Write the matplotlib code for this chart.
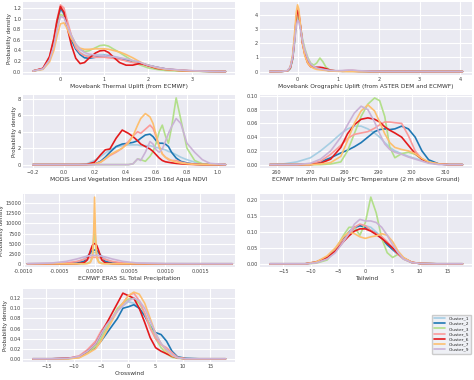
import numpy as np
import matplotlib
matplotlib.use("Agg")
import matplotlib.pyplot as plt
import seaborn as sns

sns.set_style("darkgrid")

clusters = ["Cluster_1", "Cluster_2", "Cluster_3", "Cluster_5", "Cluster_6", "Cluster_7", "Cluster_9"]
colors = ["#a6cee3", "#1f78b4", "#b2df8a", "#fb9a99", "#e31a1c", "#fdbf6f", "#cab2d6"]

# Movebank Thermal Uplift (from ECMWF)
thermal_x = [-0.63, -0.4, -0.25, -0.15, -0.08, 0.0, 0.08, 0.15, 0.25, 0.35, 0.45, 0.55, 0.65, 0.8, 0.9,
             1.0, 1.1, 1.2, 1.35, 1.5, 1.65, 1.8, 1.9, 2.0, 2.2, 2.4, 2.7, 3.0, 3.4, 3.77]
thermal = {
    "Cluster_1": [0.01, 0.05, 0.24, 0.55, 0.88, 1.17, 1.08, 0.88, 0.62, 0.45, 0.36, 0.31, 0.30, 0.31, 0.32,
                  0.32, 0.31, 0.29, 0.26, 0.22, 0.18, 0.15, 0.13, 0.11, 0.08, 0.05, 0.025, 0.01, 0.003, 0],
    "Cluster_2": [0.01, 0.05, 0.25, 0.58, 0.92, 1.20, 1.10, 0.88, 0.60, 0.42, 0.32, 0.26, 0.25, 0.27, 0.29,
                  0.30, 0.29, 0.27, 0.24, 0.21, 0.18, 0.16, 0.14, 0.12, 0.08, 0.05, 0.025, 0.01, 0.003, 0],
    "Cluster_3": [0.01, 0.05, 0.22, 0.50, 0.82, 1.08, 1.05, 0.90, 0.68, 0.52, 0.42, 0.38, 0.39, 0.45, 0.49,
                  0.50, 0.48, 0.43, 0.36, 0.28, 0.20, 0.13, 0.10, 0.07, 0.04, 0.02, 0.01, 0.005, 0.002, 0],
    "Cluster_5": [0.01, 0.06, 0.28, 0.63, 0.98, 1.26, 1.20, 0.98, 0.68, 0.45, 0.35, 0.30, 0.28, 0.27, 0.27,
                  0.27, 0.26, 0.25, 0.23, 0.20, 0.17, 0.15, 0.13, 0.11, 0.08, 0.05, 0.03, 0.015, 0.005, 0],
    "Cluster_6": [0.01, 0.06, 0.28, 0.62, 0.95, 1.23, 1.12, 0.85, 0.50, 0.25, 0.15, 0.17, 0.25, 0.35, 0.39,
                  0.40, 0.36, 0.28, 0.17, 0.12, 0.12, 0.15, 0.14, 0.11, 0.06, 0.04, 0.02, 0.01, 0.003, 0],
    "Cluster_7": [0.01, 0.04, 0.18, 0.40, 0.66, 0.90, 0.92, 0.82, 0.62, 0.50, 0.44, 0.42, 0.42, 0.43, 0.43,
                  0.43, 0.42, 0.40, 0.37, 0.32, 0.26, 0.19, 0.15, 0.12, 0.07, 0.04, 0.02, 0.01, 0.003, 0],
    "Cluster_9": [0.01, 0.05, 0.22, 0.48, 0.78, 1.04, 1.02, 0.88, 0.68, 0.52, 0.42, 0.36, 0.33, 0.31, 0.30,
                  0.30, 0.29, 0.28, 0.26, 0.24, 0.21, 0.18, 0.15, 0.12, 0.08, 0.05, 0.03, 0.015, 0.005, 0],
}

# Movebank Orographic Uplift (from ASTER DEM and ECMWF)
oro_x = [-0.68, -0.4, -0.25, -0.18, -0.12, -0.07, -0.03, 0.0, 0.03, 0.07, 0.12, 0.18, 0.25, 0.32, 0.4,
         0.47, 0.55, 0.62, 0.7, 0.8, 0.95, 1.1, 1.25, 1.35, 1.5, 1.8, 2.2, 3.0, 4.05]
oro = {
    "Cluster_1": [0, 0.01, 0.04, 0.22, 0.9, 2.2, 3.6, 4.0, 3.9, 3.2, 2.2, 1.4, 0.8, 0.5, 0.32,
                  0.24, 0.2, 0.16, 0.1, 0.05, 0.03, 0.02, 0.03, 0.03, 0.02, 0.01, 0.005, 0, 0],
    "Cluster_2": [0, 0.01, 0.04, 0.22, 0.9, 2.3, 3.7, 4.2, 4.0, 3.2, 2.1, 1.3, 0.75, 0.45, 0.3,
                  0.24, 0.2, 0.16, 0.1, 0.05, 0.03, 0.02, 0.03, 0.03, 0.02, 0.01, 0.005, 0, 0],
    "Cluster_3": [0, 0.01, 0.04, 0.2, 0.9, 2.2, 3.5, 4.0, 3.9, 3.2, 2.3, 1.6, 1.0, 0.6, 0.45,
                  0.6, 0.95, 0.7, 0.3, 0.1, 0.04, 0.02, 0.01, 0.01, 0.005, 0.002, 0, 0, 0],
    "Cluster_5": [0, 0.01, 0.05, 0.26, 1.0, 2.5, 3.9, 4.4, 4.2, 3.3, 2.1, 1.2, 0.65, 0.4, 0.28,
                  0.22, 0.18, 0.14, 0.1, 0.06, 0.04, 0.05, 0.08, 0.08, 0.04, 0.01, 0.003, 0, 0],
    "Cluster_6": [0, 0.01, 0.04, 0.25, 1.0, 2.4, 3.8, 4.3, 4.1, 3.2, 2.0, 1.2, 0.6, 0.35, 0.28,
                  0.3, 0.3, 0.27, 0.2, 0.1, 0.04, 0.02, 0.02, 0.02, 0.01, 0.005, 0.002, 0, 0],
    "Cluster_7": [0, 0.01, 0.05, 0.3, 1.2, 2.8, 4.2, 4.7, 4.4, 3.3, 2.0, 1.1, 0.6, 0.35, 0.22,
                  0.15, 0.12, 0.1, 0.07, 0.04, 0.02, 0.01, 0.01, 0.01, 0.005, 0.002, 0, 0, 0],
    "Cluster_9": [0, 0.01, 0.06, 0.3, 1.0, 2.2, 3.2, 3.6, 3.5, 3.0, 2.2, 1.5, 0.9, 0.55, 0.35,
                  0.25, 0.2, 0.15, 0.12, 0.08, 0.06, 0.07, 0.1, 0.1, 0.06, 0.02, 0.005, 0, 0],
}

# MODIS Land Vegetation Indices 250m 16d Aqua NDVI
ndvi_x = [-0.2, 0.0, 0.1, 0.15, 0.2, 0.24, 0.27, 0.3, 0.34, 0.38, 0.42, 0.45, 0.48, 0.5, 0.53,
          0.56, 0.58, 0.6, 0.62, 0.64, 0.66, 0.68, 0.7, 0.73, 0.76, 0.8, 0.85, 0.9, 0.95, 1.05]
ndvi = {
    "Cluster_1": [0, 0, 0, 0.1, 0.5, 1.0, 1.4, 1.8, 2.1, 2.3, 2.4, 2.4, 2.4, 2.3, 2.3,
                  2.3, 2.2, 2.1, 2.0, 1.9, 1.8, 1.6, 1.5, 1.2, 0.9, 0.6, 0.3, 0.1, 0.02, 0],
    "Cluster_2": [0, 0, 0, 0, 0.05, 0.4, 0.9, 1.5, 2.2, 2.5, 2.6, 2.7, 2.9, 3.2, 3.6,
                  3.7, 3.4, 2.9, 2.6, 2.6, 2.5, 2.2, 1.5, 0.8, 0.4, 0.2, 0.05, 0, 0, 0],
    "Cluster_3": [0, 0, 0, 0, 0, 0, 0, 0, 0, 0, 0, 0.1, 0.7, 0.6, 0.4,
                  1.0, 1.6, 2.6, 4.0, 4.8, 3.5, 2.6, 4.5, 8.1, 5.5, 2.0, 0.5, 0.1, 0, 0],
    "Cluster_5": [0, 0, 0, 0, 0.05, 0.3, 0.7, 1.1, 1.5, 2.0, 2.8, 3.5, 4.0, 3.8, 4.3,
                  4.8, 4.4, 3.4, 2.2, 1.3, 0.9, 0.6, 0.5, 0.5, 0.3, 0.15, 0.05, 0, 0, 0],
    "Cluster_6": [0, 0, 0, 0.02, 0.3, 1.2, 1.8, 1.9, 3.2, 4.2, 3.8, 3.4, 2.9, 2.5, 2.2,
                  1.9, 1.6, 1.2, 0.8, 0.5, 0.35, 0.28, 0.22, 0.15, 0.1, 0.05, 0.02, 0, 0, 0],
    "Cluster_7": [0, 0, 0, 0, 0.05, 0.3, 0.7, 1.2, 1.6, 2.0, 2.6, 3.5, 4.8, 5.6, 6.2,
                  5.8, 5.0, 3.6, 2.2, 1.3, 0.9, 0.7, 0.5, 0.3, 0.2, 0.1, 0.03, 0, 0, 0],
    "Cluster_9": [0, 0, 0, 0, 0, 0, 0, 0, 0, 0, 0, 0.1, 0.7, 0.5, 1.5,
                  2.8, 2.5, 1.8, 1.5, 1.9, 2.8, 3.8, 4.6, 5.6, 5.0, 2.6, 1.5, 0.6, 0.15, 0],
}

# ECMWF Interim Full Daily SFC Temperature (2 m above Ground)
temp_x = [258, 262, 266, 270, 273, 276, 279, 281, 283, 285, 287, 289, 290.5, 292, 293.5,
          295, 297, 299, 301, 303, 305, 308, 311, 315]
temp = {
    "Cluster_1": [0, 0.001, 0.004, 0.01, 0.02, 0.032, 0.045, 0.052, 0.056, 0.056, 0.052, 0.046, 0.04, 0.032,
                  0.025, 0.02, 0.016, 0.012, 0.009, 0.006, 0.003, 0.001, 0, 0],
    "Cluster_2": [0, 0, 0, 0.001, 0.004, 0.01, 0.017, 0.021, 0.026, 0.032, 0.04, 0.048, 0.051, 0.052,
                  0.051, 0.052, 0.056, 0.052, 0.04, 0.02, 0.007, 0.001, 0, 0],
    "Cluster_3": [0, 0, 0, 0, 0, 0.001, 0.004, 0.02, 0.045, 0.07, 0.088, 0.097, 0.093, 0.07,
                  0.025, 0.01, 0.016, 0.018, 0.015, 0.008, 0.003, 0.001, 0, 0],
    "Cluster_5": [0, 0, 0, 0.001, 0.005, 0.015, 0.028, 0.038, 0.044, 0.046, 0.048, 0.053, 0.058, 0.062,
                  0.062, 0.061, 0.06, 0.042, 0.02, 0.008, 0.003, 0.001, 0, 0],
    "Cluster_6": [0, 0, 0, 0, 0.002, 0.008, 0.025, 0.045, 0.058, 0.066, 0.068, 0.066, 0.062, 0.055,
                  0.05, 0.046, 0.04, 0.028, 0.016, 0.008, 0.003, 0.001, 0, 0],
    "Cluster_7": [0, 0, 0, 0, 0.001, 0.003, 0.012, 0.035, 0.06, 0.078, 0.087, 0.078, 0.062, 0.045,
                  0.032, 0.025, 0.022, 0.02, 0.016, 0.009, 0.004, 0.001, 0, 0],
    "Cluster_9": [0, 0, 0, 0.002, 0.008, 0.02, 0.04, 0.058, 0.075, 0.085, 0.08, 0.062, 0.045, 0.03,
                  0.022, 0.018, 0.015, 0.011, 0.008, 0.005, 0.002, 0, 0, 0],
}

# ECMWF ERA5 SL Total Precipitation
precip_x = [-0.00095, -0.0006, -0.0004, -0.00025, -0.00015, -0.0001, -0.00006, -0.00003, -0.000012, 0.0,
            0.000012, 0.00003, 0.00006, 0.0001, 0.00015, 0.00025, 0.0004, 0.0006, 0.001, 0.0014, 0.00195]
precip = {
    "Cluster_1": [0, 20, 100, 400, 1200, 2000, 2500, 2700, 2800, 2800,
                  2800, 2700, 2500, 2000, 1200, 400, 100, 20, 0, 0, 0],
    "Cluster_2": [0, 0, 20, 150, 600, 1600, 2800, 3300, 3400, 3400,
                  3400, 3300, 2800, 1600, 600, 150, 20, 0, 0, 0, 0],
    "Cluster_3": [0, 0, 0, 0, 50, 150, 500, 1800, 6000, 10500,
                  6000, 1800, 500, 150, 50, 0, 0, 0, 0, 0, 0],
    "Cluster_5": [0, 50, 200, 600, 1100, 1400, 1550, 1600, 1600, 1600,
                  1600, 1600, 1550, 1400, 1100, 600, 200, 50, 0, 0, 0],
    "Cluster_6": [0, 0, 0, 30, 250, 1000, 3200, 4600, 4900, 5000,
                  4900, 4600, 3200, 1000, 250, 30, 0, 0, 0, 0, 0],
    "Cluster_7": [0, 0, 0, 0, 0, 50, 300, 1500, 8000, 16500,
                  8000, 1500, 300, 50, 0, 0, 0, 0, 0, 0, 0],
    "Cluster_9": [10, 200, 600, 1200, 1700, 1900, 2050, 2100, 2100, 2100,
                  2100, 2100, 2050, 1900, 1700, 1200, 600, 200, 30, 10, 0],
}

# Tailwind
tail_x = [-17.5, -14, -11, -9, -7, -5.5, -4, -3, -2, -1, 0, 1, 2, 3, 4, 5, 6, 7, 8.5, 10, 13, 17.8]
tail = {
    "Cluster_1": [0, 0, 0, 0.005, 0.02, 0.045, 0.075, 0.095, 0.11, 0.12, 0.12, 0.115, 0.1, 0.085,
                  0.065, 0.045, 0.03, 0.015, 0.004, 0.001, 0, 0],
    "Cluster_2": [0, 0, 0, 0.005, 0.02, 0.045, 0.08, 0.1, 0.115, 0.12, 0.115, 0.105, 0.095, 0.08,
                  0.06, 0.045, 0.03, 0.018, 0.004, 0.001, 0, 0],
    "Cluster_3": [0, 0, 0, 0.002, 0.012, 0.045, 0.09, 0.115, 0.115, 0.09, 0.13, 0.21, 0.16, 0.08,
                  0.035, 0.02, 0.03, 0.015, 0.004, 0.001, 0, 0],
    "Cluster_5": [0, 0, 0, 0.004, 0.018, 0.042, 0.075, 0.095, 0.115, 0.125, 0.12, 0.105, 0.095, 0.085,
                  0.07, 0.05, 0.03, 0.015, 0.004, 0.001, 0, 0],
    "Cluster_6": [0, 0, 0, 0.006, 0.02, 0.04, 0.07, 0.088, 0.103, 0.11, 0.11, 0.103, 0.092, 0.08,
                  0.065, 0.05, 0.032, 0.018, 0.005, 0.001, 0, 0],
    "Cluster_7": [0, 0, 0, 0.006, 0.025, 0.05, 0.085, 0.1, 0.095, 0.085, 0.08, 0.085, 0.088, 0.095,
                  0.09, 0.07, 0.04, 0.02, 0.005, 0.001, 0, 0],
    "Cluster_9": [0, 0, 0, 0.003, 0.015, 0.035, 0.07, 0.095, 0.125, 0.14, 0.135, 0.135, 0.13, 0.115,
                  0.09, 0.06, 0.035, 0.015, 0.004, 0.001, 0, 0],
}

# Crosswind
cross_x = [-17.5, -14, -11, -9, -7.5, -6, -5, -4, -3, -2, -1, 0, 1, 2, 3, 4, 5, 6, 7, 8, 9, 10.5, 13, 17.8]
cross = {
    "Cluster_1": [0, 0, 0.001, 0.004, 0.015, 0.03, 0.045, 0.065, 0.08, 0.095, 0.105, 0.113, 0.11, 0.1,
                  0.085, 0.065, 0.045, 0.03, 0.018, 0.008, 0.002, 0, 0, 0],
    "Cluster_2": [0, 0, 0.001, 0.003, 0.012, 0.022, 0.035, 0.05, 0.065, 0.08, 0.1, 0.103, 0.107, 0.1,
                  0.085, 0.065, 0.052, 0.048, 0.035, 0.015, 0.004, 0.001, 0, 0],
    "Cluster_3": [0, 0, 0, 0.003, 0.012, 0.025, 0.04, 0.06, 0.08, 0.1, 0.11, 0.118, 0.12, 0.11,
                  0.09, 0.065, 0.04, 0.022, 0.01, 0.003, 0.001, 0, 0, 0],
    "Cluster_5": [0, 0, 0.001, 0.006, 0.018, 0.035, 0.055, 0.07, 0.08, 0.095, 0.11, 0.125, 0.13, 0.115,
                  0.09, 0.06, 0.04, 0.028, 0.022, 0.012, 0.003, 0, 0, 0],
    "Cluster_6": [0, 0, 0.001, 0.004, 0.015, 0.03, 0.05, 0.07, 0.09, 0.11, 0.13, 0.125, 0.12, 0.1,
                  0.072, 0.042, 0.022, 0.015, 0.01, 0.005, 0.002, 0, 0, 0],
    "Cluster_7": [0, 0, 0, 0.002, 0.01, 0.02, 0.035, 0.055, 0.075, 0.095, 0.11, 0.125, 0.132, 0.128,
                  0.11, 0.08, 0.05, 0.03, 0.015, 0.006, 0.002, 0, 0, 0],
    "Cluster_9": [0, 0, 0.001, 0.005, 0.015, 0.03, 0.05, 0.067, 0.08, 0.095, 0.105, 0.115, 0.12, 0.115,
                  0.1, 0.075, 0.05, 0.03, 0.018, 0.008, 0.002, 0, 0, 0],
}

precip_ticks = [-0.001, -0.0005, 0.0, 0.0005, 0.001, 0.0015, 0.002]
precip_ticklabels = ["-0.0010", "-0.0005", "0.0000", "0.0005", "0.0010", "0.0015", "0.0020"]

panels = [
    ("Movebank Thermal Uplift (from ECMWF)", thermal_x, thermal, [0, 1, 2, 3],
     [0.0, 0.2, 0.4, 0.6, 0.8, 1.0, 1.2]),
    ("Movebank Orographic Uplift (from ASTER DEM and ECMWF)", oro_x, oro, [0, 1, 2, 3, 4],
     [0, 1, 2, 3, 4]),
    ("MODIS Land Vegetation Indices 250m 16d Aqua NDVI", ndvi_x, ndvi,
     [-0.2, 0.0, 0.2, 0.4, 0.6, 0.8, 1.0], [0, 2, 4, 6, 8]),
    ("ECMWF Interim Full Daily SFC Temperature (2 m above Ground)", temp_x, temp,
     [260, 270, 280, 290, 300, 310], [0.0, 0.02, 0.04, 0.06, 0.08, 0.10]),
    ("ECMWF ERA5 SL Total Precipitation", precip_x, precip, precip_ticks,
     [0, 2500, 5000, 7500, 10000, 12500, 15000]),
    ("Tailwind", tail_x, tail, [-15, -10, -5, 0, 5, 10, 15], [0.0, 0.05, 0.10, 0.15, 0.20]),
    ("Crosswind", cross_x, cross, [-15, -10, -5, 0, 5, 10, 15],
     [0.0, 0.02, 0.04, 0.06, 0.08, 0.10, 0.12]),
]

fig = plt.figure(figsize=(4.74, 3.80), dpi=100)

row_bottoms = [0.803, 0.558, 0.297, 0.047]
row_h = 0.193
col_lefts = [0.049, 0.549]
col_w = 0.447

handles = []
for i, (label, xs, curves, xticks, yticks) in enumerate(panels):
    r, c = divmod(i, 2)
    ax = fig.add_axes([col_lefts[c], row_bottoms[r], col_w, row_h])
    for name, col in zip(clusters, colors):
        ln, = ax.plot(xs, curves[name], color=col, lw=1.2, label=name)
        if i == 0:
            handles.append(ln)
    ax.set_xticks(xticks)
    ax.set_yticks(yticks)
    if xs is precip_x:
        ax.set_xlim(-0.00101, 0.00199)
        ax.set_xticklabels(precip_ticklabels)
    ax.set_xlabel(label, fontsize=4.2, labelpad=1.5, color="0.2")
    if c == 0:
        ax.set_ylabel("Probability density", fontsize=4, labelpad=1.0, color="0.2")
    ax.tick_params(labelsize=3.6, pad=1.5, length=0, colors="0.25")
    for s in ax.spines.values():
        s.set_visible(False)
    ax.grid(color="white", lw=0.8)

fig.legend(handles, clusters, loc="upper right", bbox_to_anchor=(0.998, 0.178),
           fontsize=3.2, frameon=True, facecolor="#eef0f5", edgecolor="0.8",
           handlelength=2.5, handletextpad=0.8, borderpad=0.4, labelspacing=0.25,
           framealpha=1.0)

fig.savefig("out.png", dpi=100)
